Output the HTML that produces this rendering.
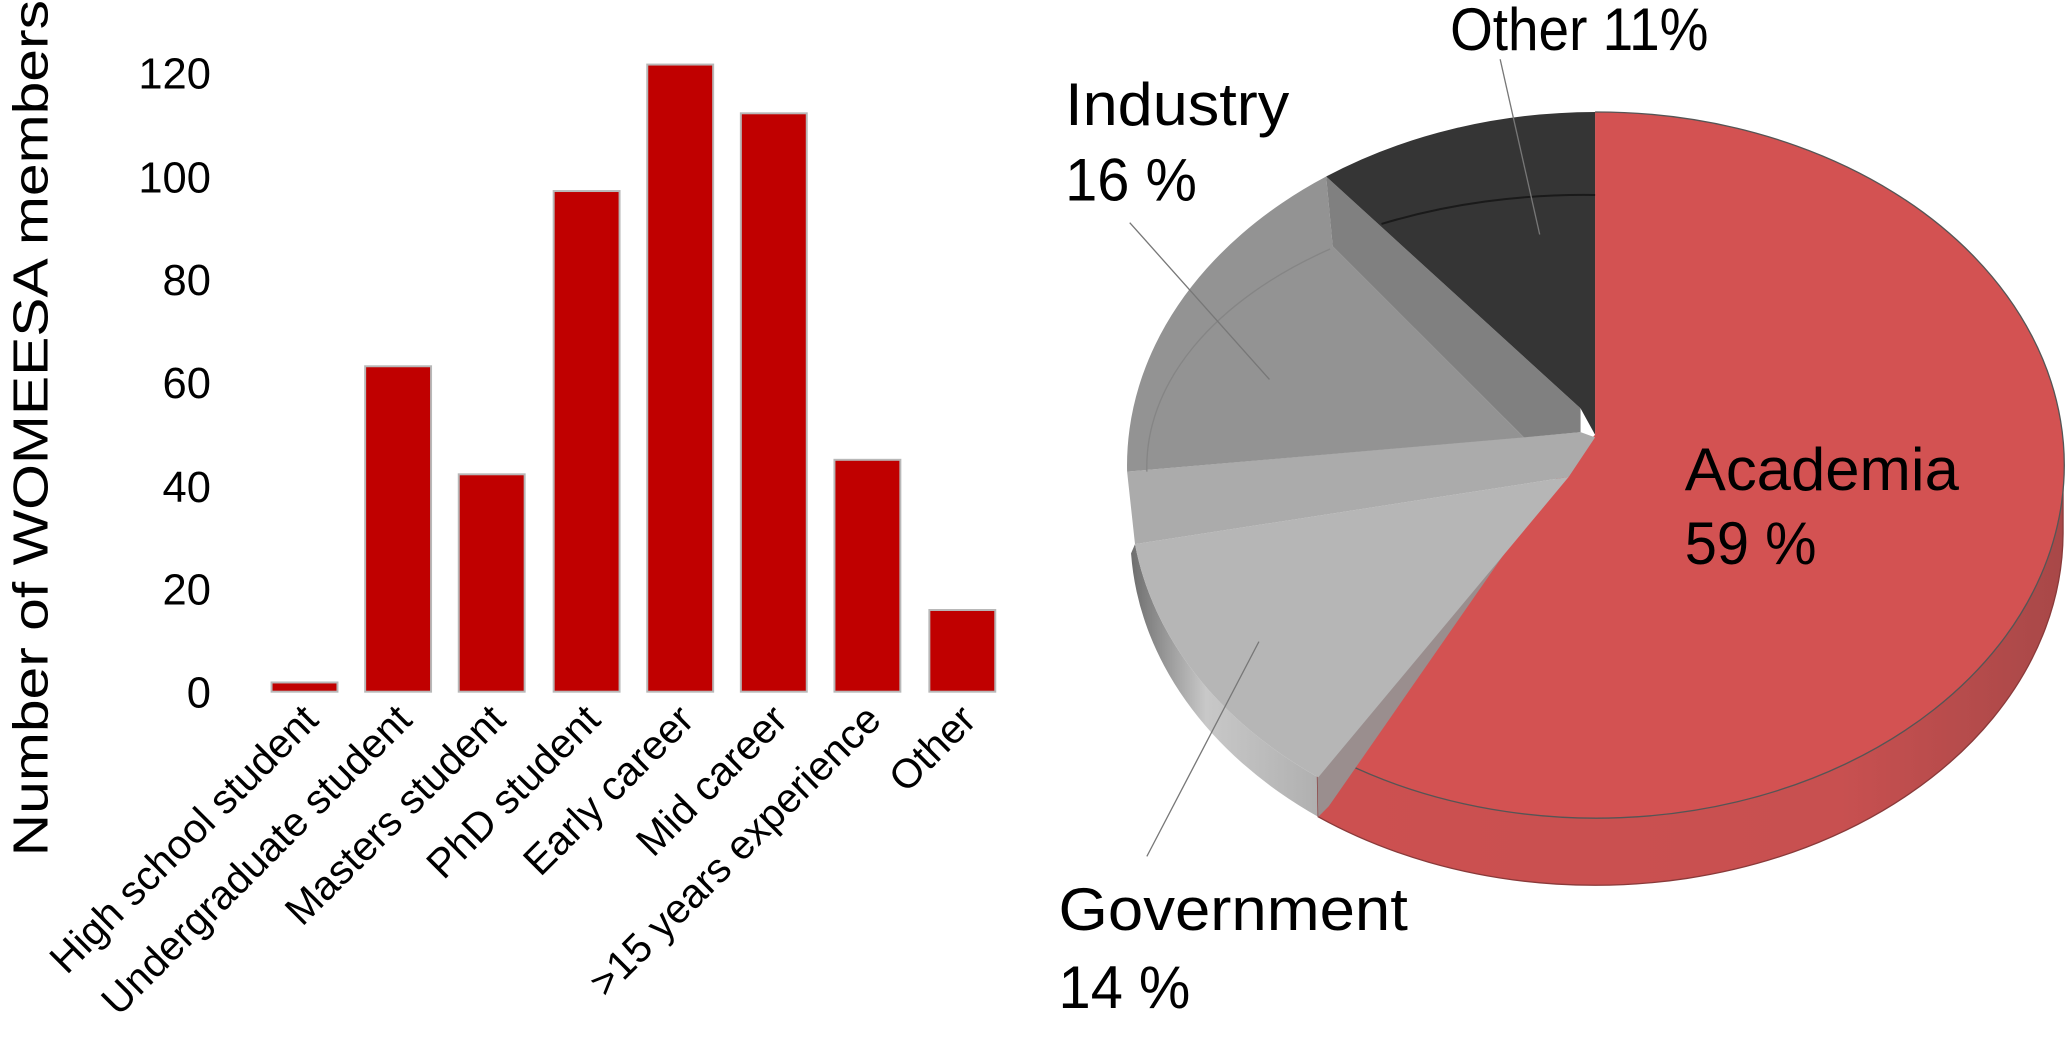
<!DOCTYPE html>
<html><head><meta charset="utf-8"><style>
html,body{margin:0;padding:0;background:#fff;}
svg{display:block;}
text{font-family:"Liberation Sans",Arial,sans-serif;fill:#000;}
</style></head><body>
<svg width="2067" height="1054" viewBox="0 0 1568 800" preserveAspectRatio="none" xmlns="http://www.w3.org/2000/svg">
<defs>
<linearGradient id="rs" x1="0" x2="1" y1="0" y2="0">
<stop offset="0" stop-color="#cc5050"/><stop offset="0.7" stop-color="#c85050"/><stop offset="1" stop-color="#a84848"/>
</linearGradient>
<linearGradient id="gs" x1="0" x2="1" y1="0" y2="0">
<stop offset="0" stop-color="#6e6e6e"/><stop offset="0.4" stop-color="#c8c8c8"/><stop offset="1" stop-color="#b0b0b0"/>
</linearGradient>
</defs>
<!-- Bar chart -->
<text transform="translate(36,325) rotate(-90)" text-anchor="middle" font-size="37" textLength="650" lengthAdjust="spacingAndGlyphs">Number of WOMEESA members</text>
<g font-size="33" text-anchor="end">
<text x="160" y="537">0</text>
<text x="160" y="459">20</text>
<text x="160" y="381">40</text>
<text x="160" y="302">60</text>
<text x="160" y="224">80</text>
<text x="160" y="146">100</text>
<text x="160" y="67">120</text>
</g>
<g fill="#c00000" stroke="#b8b8b8" stroke-width="1.5">
<rect x="206" y="518" width="50" height="7"/>
<rect x="277" y="278" width="50" height="247"/>
<rect x="348" y="360" width="50" height="165"/>
<rect x="420" y="145" width="50" height="380"/>
<rect x="491" y="49" width="50" height="476"/>
<rect x="562" y="86" width="50" height="439"/>
<rect x="633" y="349" width="50" height="176"/>
<rect x="705" y="463" width="50" height="62"/>
</g>
<g font-size="31" text-anchor="end">
<text transform="translate(243,548) rotate(-45)">High school student</text>
<text transform="translate(314,548) rotate(-45)">Undergraduate student</text>
<text transform="translate(385,548) rotate(-45)">Masters student</text>
<text transform="translate(457,548) rotate(-45)">PhD student</text>
<text transform="translate(528,548) rotate(-45)">Early career</text>
<text transform="translate(599,548) rotate(-45)">Mid career</text>
<text transform="translate(670,548) rotate(-45)">&gt;15 years experience</text>
<text transform="translate(742,548) rotate(-45)">Other</text>
</g>
<!-- Pie -->
<path d="M861,413 A355,268 0 0,0 1000,590 L1000,620 A355,268 0 0,1 858,420 Z" fill="url(#gs)"/>
<path d="M1565,353 A355,268 0 0,1 999,568 L1000,620 A355,268 0 0,0 1565,405 Z" fill="url(#rs)" stroke="#8a3a3a" stroke-width="1"/>
<path d="M1210,330 L1210,85 A355,268 0 1,1 999,568 Z" fill="#d35252"/>
<path d="M1210,85 A355,268 0 1,1 999,568" fill="none" stroke="#555" stroke-width="1"/>
<path d="M1210,330 L999,568 L1000,620 L1008,612 L1190,350 Z" fill="#9a8e8e"/>
<path d="M861,413 L1190,362 L1000,590 A355,268 0 0,1 861,413 Z" fill="#b6b6b6"/>
<path d="M855,358 L1199,328 L1210,332 L1190,362 L861,413 Z" fill="#ababab"/>
<path d="M1006,134 A355,268 0 0,0 855,358 L1156,332 L1011,187 Z" fill="#939393"/>
<path d="M1006,134 L1011,187 L1156,332 L1199,328 L1199,310 Z" fill="#808080"/>
<path d="M1210,85 A355,268 0 0,0 1006,134 L1199,310 L1210,330 Z" fill="#353535"/>
<path d="M1210,148 A340,205 0 0,0 1048,170" fill="none" stroke="#1a1a1a" stroke-width="1.5"/>
<path d="M1009,189 A340,205 0 0,0 870,358" fill="none" stroke="#858585" stroke-width="1"/>
<g stroke="#777" stroke-width="1" fill="none">
<line x1="1138" y1="45" x2="1168" y2="178"/>
<line x1="857" y1="169" x2="963" y2="288"/>
<line x1="870" y1="650" x2="955" y2="487"/>
</g>
<g font-size="46">
<text x="1100" y="38" textLength="196" lengthAdjust="spacingAndGlyphs">Other 11%</text>
<text x="808" y="95" textLength="170" lengthAdjust="spacingAndGlyphs">Industry</text>
<text x="808" y="152" textLength="100" lengthAdjust="spacingAndGlyphs">16 %</text>
<text x="1278" y="372" textLength="208" lengthAdjust="spacingAndGlyphs">Academia</text>
<text x="1278" y="428" textLength="100" lengthAdjust="spacingAndGlyphs">59 %</text>
<text x="803" y="706" textLength="265" lengthAdjust="spacingAndGlyphs">Government</text>
<text x="803" y="765" textLength="100" lengthAdjust="spacingAndGlyphs">14 %</text>
</g>
</svg>
</body></html>
